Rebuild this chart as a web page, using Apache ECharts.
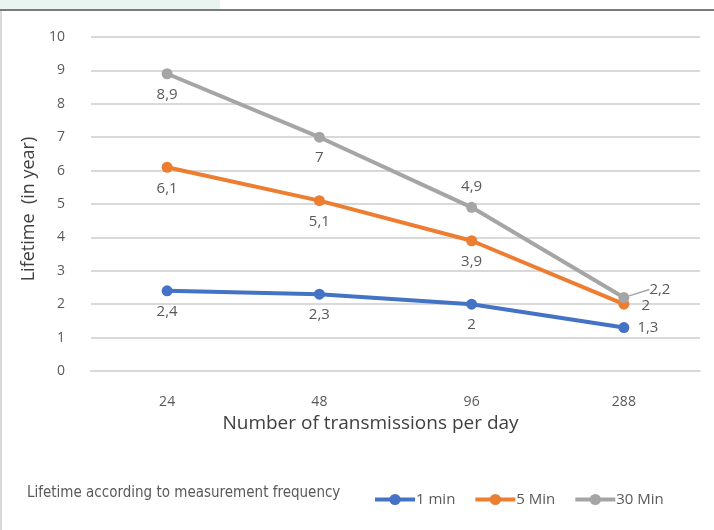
<!DOCTYPE html>
<html><head><meta charset="utf-8">
<script src="https://cdn.jsdelivr.net/npm/echarts@6/dist/echarts.min.js"></script>
<style>html,body{margin:0;padding:0;background:#fff}#c{width:714px;height:530px}</style>
</head><body><div id="c"></div>
<script>
const categories = ['24', '48', '96', '288'];
const oneMin = [2.4, 2.3, 2.0, 1.3];
const fiveMin = [6.1, 5.1, 3.9, 2.0];
const thirtyMin = [8.9, 7.0, 4.9, 2.2];
const seriesNames = ['1 min', '5 Min', '30 Min'];
const legendTitle = 'Lifetime according to measurement frequency';

const fmt = v => String(v).replace('.', ',');
const labelColor = '#595959';
const font = 'Open Sans';

function mk(name, vals, color, positions, offsets, leaderIdx) {
  return {
    name, type: 'line', data: vals.map((v, i) => {
      const d = { value: v, label: { position: positions[i], offset: offsets ? offsets[i] : [0, 0] } };
      if (i === leaderIdx) d.labelLine = { show: true };
      return d;
    }),
    symbol: 'circle', symbolSize: 11,
    lineStyle: { width: 4, color }, itemStyle: { color },
    label: { show: true, color: labelColor, fontSize: 15, fontFamily: font, distance: 8,
      formatter: p => fmt(p.value) },
    labelLine: { show: false, lineStyle: { color: '#a5a5a5', width: 1.5 } },
    labelLayout: leaderIdx != null ? (p => p.dataIndex === leaderIdx ? { dx: 12, dy: -8 } : {}) : undefined,
    z: 3
  };
}

const chart = echarts.init(document.getElementById('c'));
chart.setOption({
  animation: false,
  textStyle: { fontFamily: font },
  grid: { left: 91, right: 14, top: 37, bottom: 159 },
  xAxis: {
    type: 'category', data: categories,
    name: 'Number of transmissions per day', nameLocation: 'middle', nameGap: 43,
    nameTextStyle: { fontSize: 19, color: '#404040', fontFamily: font, padding: [0, 50, 0, 0] },
    axisLine: { lineStyle: { color: '#d9d9d9', width: 2 } },
    axisTick: { show: false },
    axisLabel: { color: labelColor, fontSize: 14, margin: 24 }
  },
  yAxis: {
    type: 'value', min: 0, max: 10, interval: 1,
    name: 'Lifetime  (in year)', nameLocation: 'middle', nameGap: 42,
    nameTextStyle: { fontSize: 18, color: '#404040', fontFamily: font, padding: [0, 10, 0, 0] },
    axisLabel: { color: labelColor, fontSize: 14, margin: 26 },
    splitLine: { lineStyle: { color: '#d9d9d9', width: 2 } }
  },
  legend: {
    left: 368, top: 487, itemWidth: 40, itemHeight: 14, itemGap: 18,
    lineStyle: { width: 4 },
    textStyle: { color: labelColor, fontSize: 15, padding: [0, 0, 0, -4] },
    data: seriesNames
  },
  graphic: [
    { type: 'rect', left: 0, top: 0, shape: { width: 220, height: 9 }, style: { fill: '#e9f4f1' } },
    { type: 'rect', left: 0, top: 9, shape: { width: 714, height: 2 }, style: { fill: '#7a7a7a' } },
    { type: 'rect', left: 0, top: 11, shape: { width: 2, height: 519 }, style: { fill: '#d9d9d9' } },
    { type: 'text', left: 27, top: 486, style: { text: legendTitle, fill: labelColor, fontSize: 15,
        fontFamily: 'DejaVu Sans Condensed', letterSpacing: -1.2 } }
  ],
  series: [
    mk(seriesNames[0], oneMin, '#4472C4', ['bottom', 'bottom', 'bottom', 'right']),
    mk(seriesNames[1], fiveMin, '#ED7D31', ['bottom', 'bottom', 'bottom', 'right'], [[0,0],[0,0],[0,0],[4,2]]),
    mk(seriesNames[2], thirtyMin, '#A5A5A5', ['bottom', 'bottom', 'top', 'right'], null, 3)
  ]
});
</script></body></html>
